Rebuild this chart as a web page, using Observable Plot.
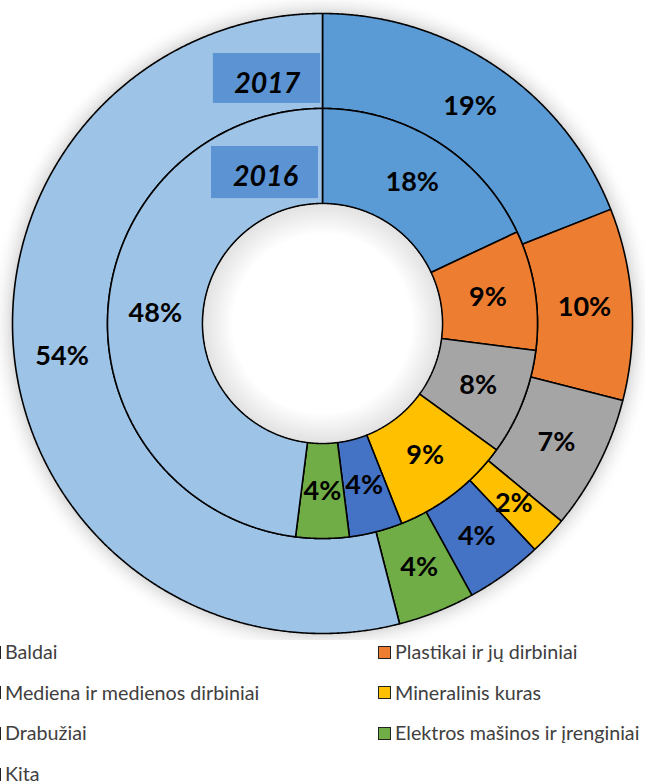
<!DOCTYPE html>
<html>
<head>
<meta charset="utf-8">
<script src="https://cdn.jsdelivr.net/npm/d3@7"></script>
<script src="https://cdn.jsdelivr.net/npm/@observablehq/plot@0.6"></script>
<style>
  html, body { margin: 0; padding: 0; background: #fff; }
  body { width: 645px; height: 784px; overflow: hidden; position: relative; }
  #chart svg { display: block; }
  #legend { position: absolute; left: 0; top: 632px; width: 645px; font-family: Lato, "Open Sans", sans-serif; font-size: 19.7px; color: #404040; }
  .item { position: absolute; display: flex; align-items: center; height: 40px; line-height: 22px; white-space: nowrap; }
  .sw { width: 11px; height: 11px; border: 1.5px solid #222; margin-right: 4px; box-sizing: content-box; }
</style>
</head>
<body>
<div id="chart"></div>
<div id="legend"></div>
<script>
const categories = ["Baldai", "Plastikai ir jų dirbiniai", "Mediena ir medienos dirbiniai", "Mineralinis kuras", "Drabužiai", "Elektros mašinos ir įrenginiai", "Kita"];
const colors = ["#5B9BD5", "#ED7D31", "#A5A5A5", "#FFC000", "#4472C4", "#70AD47", "#9DC3E6"];
const values2017 = [19, 10, 7, 2, 4, 4, 54];
const values2016 = [18, 9, 8, 9, 4, 4, 48];
const years = ["2017", "2016"];

// ring geometry (outer radius = 1)
const R_OUT = 1, R_MID = 215 / 310, R_IN = 120 / 310;
const rings = [
  {year: years[0], values: values2017, r0: R_MID, r1: R_OUT},
  {year: years[1], values: values2016, r0: R_IN, r1: R_MID}
];

const polys = [];
const labels = [];
rings.forEach(ring => {
  const arcs = d3.pie().sort(null).value(d => d)(ring.values);
  arcs.forEach((a, i) => {
    const id = ring.year + "-" + i;
    const n = Math.max(2, Math.ceil((a.endAngle - a.startAngle) / 0.005));
    for (let k = 0; k <= n; k++) {
      const t = a.startAngle + (a.endAngle - a.startAngle) * k / n;
      polys.push({id, color: colors[i], x: ring.r1 * Math.sin(t), y: ring.r1 * Math.cos(t)});
    }
    for (let k = n; k >= 0; k--) {
      const t = a.startAngle + (a.endAngle - a.startAngle) * k / n;
      polys.push({id, color: colors[i], x: ring.r0 * Math.sin(t), y: ring.r0 * Math.cos(t)});
    }
    const m = (a.startAngle + a.endAngle) / 2;
    const rc = (ring.r0 + ring.r1) / 2;
    labels.push({x: rc * Math.sin(m), y: rc * Math.cos(m), text: ring.values[i] + "%"});
  });
});

const yearBoxes = [
  {year: years[0], x1: -0.352, x2: -0.006, y1: 0.871, y2: 0.71, tx: -0.178, ty: 0.774},
  {year: years[1], x1: -0.358, x2: -0.013, y1: 0.571, y2: 0.403, tx: -0.184, ty: 0.474}
];

const defs = () => {
  const svgNS = "http://www.w3.org/2000/svg";
  const g = document.createElementNS(svgNS, "defs");
  g.innerHTML = `
    <radialGradient id="holeGrad" cx="50%" cy="50%" r="50%">
      <stop offset="0.75" stop-color="#ffffff"/>
      <stop offset="1" stop-color="#e2e2e2"/>
    </radialGradient>
    <radialGradient id="shadowGrad" cx="50%" cy="50%" r="50%">
      <stop offset="0.93" stop-color="#d9d9d9"/>
      <stop offset="1" stop-color="#ffffff" stop-opacity="0"/>
    </radialGradient>`;
  return g;
};

const chart = Plot.plot({
  width: 645,
  height: 640,
  margin: 0,
  x: {domain: [-1, 1], range: [12, 632], axis: null},
  y: {domain: [-1, 1], range: [633, 13], axis: null},
  color: {type: "identity"},
  marks: [
    defs,
    Plot.dot([{x: 0, y: 0}], {x: "x", y: "y", r: 333, fill: "url(#shadowGrad)", stroke: "none"}),
    Plot.line(polys, {x: "x", y: "y", z: "id", fill: "color", stroke: "black", strokeWidth: 1.6, curve: "linear-closed", strokeLinejoin: "miter"}),
    Plot.dot([{x: 0, y: 0}], {x: "x", y: "y", r: 119, fill: "url(#holeGrad)", stroke: "none"}),
    Plot.rect(yearBoxes, {x1: "x1", x2: "x2", y1: "y1", y2: "y2", fill: "#5B93D3"}),
    Plot.text(yearBoxes, {x: "tx", y: "ty", text: "year", fontSize: 28.5, fontWeight: "bold", fontStyle: "italic", fontFamily: "Lato, sans-serif", fill: "black"}),
    Plot.text(labels, {x: "x", y: "y", text: "text", fontSize: 27, fontWeight: "bold", fontFamily: "Lato, sans-serif", fill: "black"})
  ]
});
document.getElementById("chart").append(chart);

// legend: two columns, row-major
const legend = document.getElementById("legend");
categories.forEach((c, i) => {
  const col = i % 2, row = Math.floor(i / 2);
  const it = document.createElement("div");
  it.className = "item";
  it.style.left = (col === 0 ? -12 : 378) + "px";
  it.style.top = (row * 40.7) + "px";
  const sw = document.createElement("span");
  sw.className = "sw";
  sw.style.background = colors[i];
  const tx = document.createElement("span");
  tx.textContent = c;
  it.append(sw, tx);
  legend.append(it);
});
</script>
</body>
</html>
